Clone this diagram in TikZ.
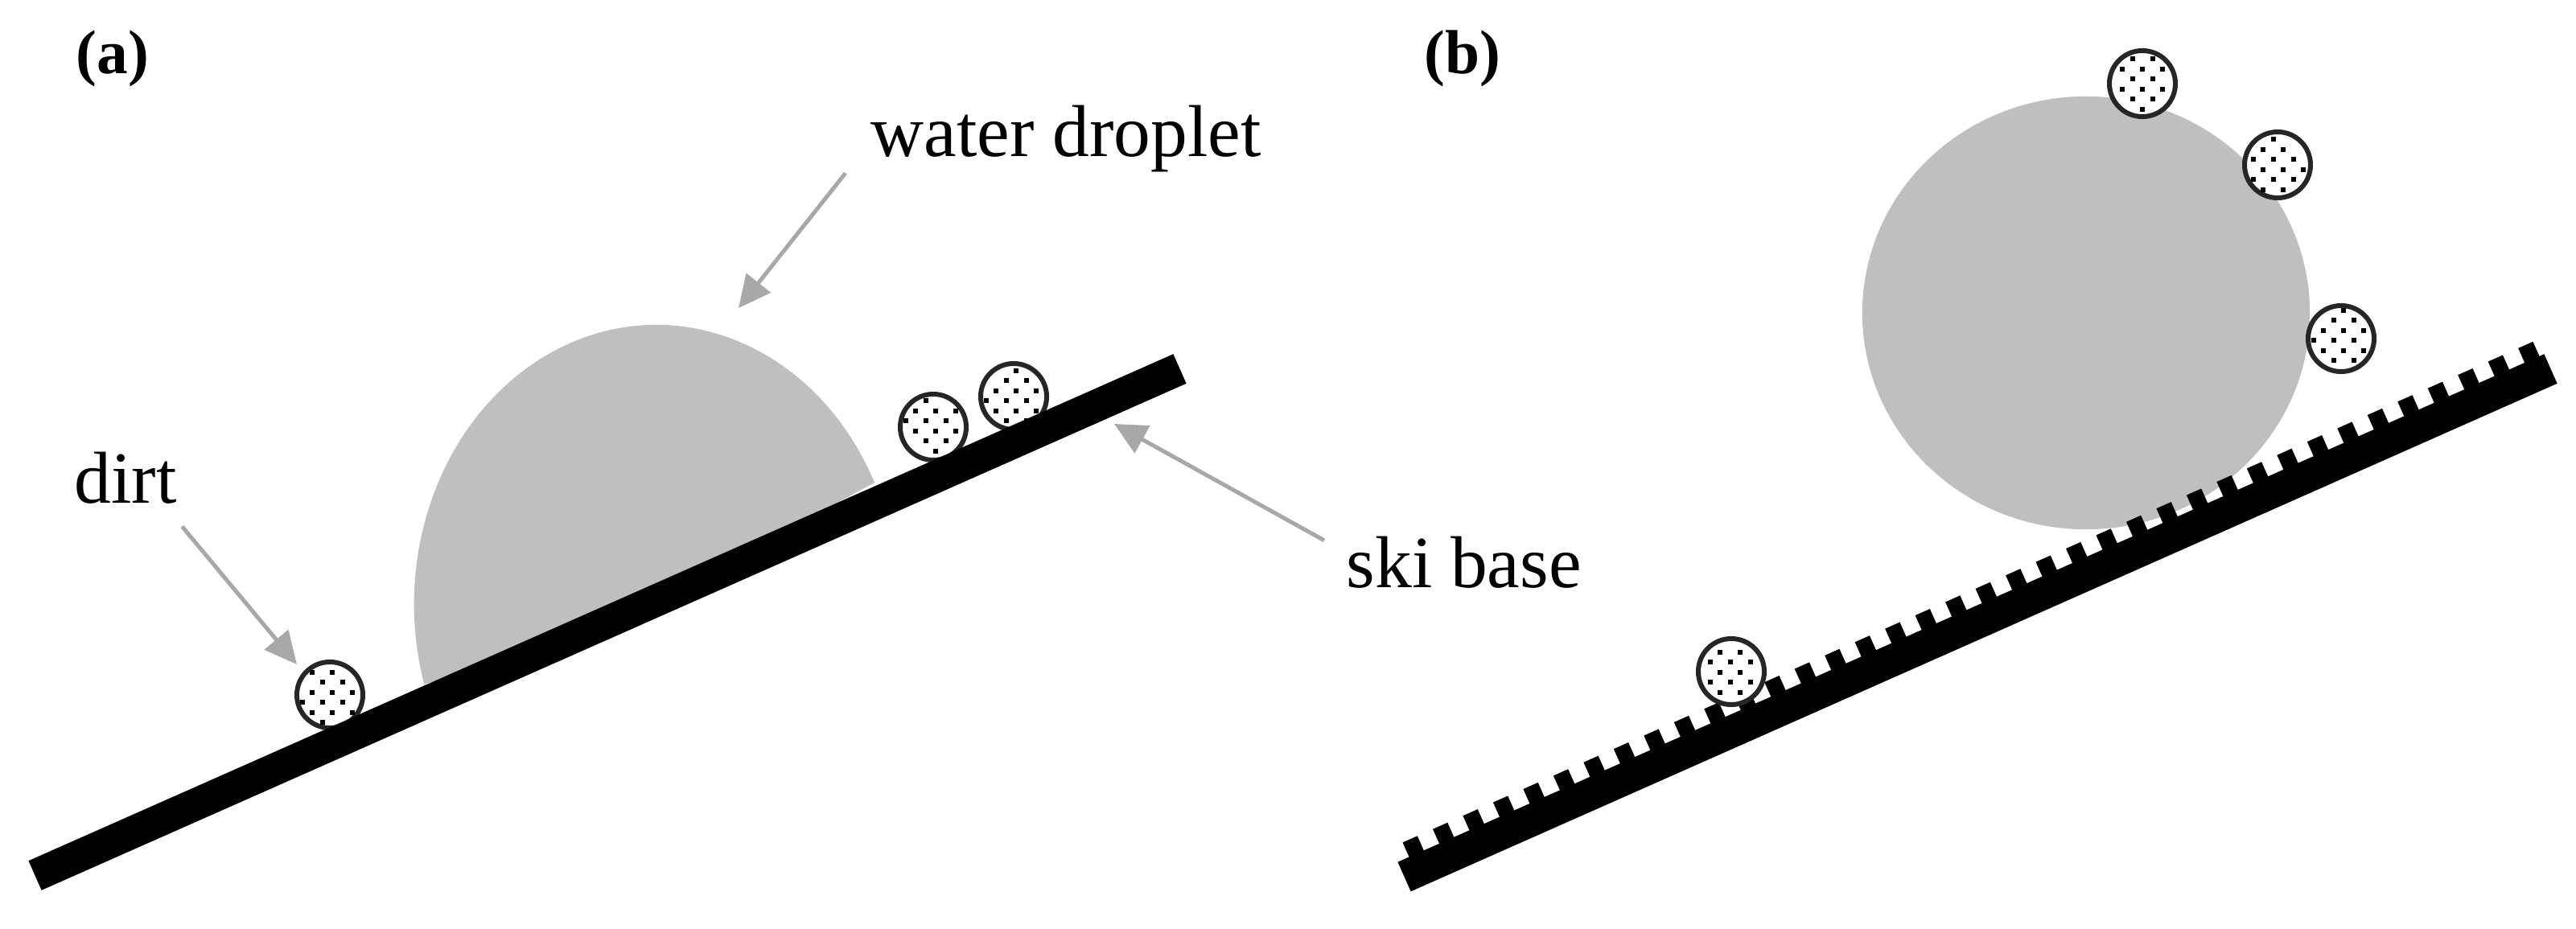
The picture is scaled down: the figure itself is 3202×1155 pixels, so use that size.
\documentclass[tikz,border=0pt]{standalone}
\usepackage{fontspec}
\setmainfont{Liberation Serif}
\usetikzlibrary{arrows.meta,calc}

\definecolor{dropgray}{RGB}{191,191,191}
\definecolor{arrowgray}{RGB}{168,168,168}

\tikzset{
    droplet/.style={fill=dropgray},
    slab/.style={line width=0.4cm},
    tooth/.style={fill=black, inner sep=0pt, minimum width=0.2cm, minimum height=0.39cm, anchor=south, rotate=23.95},
    pointer/.style={arrowgray, line width=0.05cm, -{Triangle[length=0.4cm,width=0.38cm]}},
    dirtball/.style={circle, draw=black!85, fill=white, line width=0.06cm, inner sep=0pt, minimum size=0.82cm},
    caption/.style={inner sep=0pt, anchor=base west, font=\fontsize{26}{30}\selectfont},
    panel/.style={inner sep=0pt, anchor=base west, font=\fontsize{22}{26}\selectfont\bfseries}
}

% dirt particle: the dots of all particles sit on one common grid
\newcommand{\dirtball}[3]{
    \node[dirtball] (#1) at (#2,#3) {};
    \pgfmathtruncatemacro{\rowbase}{round((#3-510.7)/12.5)}
    \foreach \j in {-3,...,3} {
        \pgfmathsetmacro{\rowshift}{(\rowbase+\j)*12.5}
        \pgfmathtruncatemacro{\colbase}{round((#2-1163.3-\rowshift)/25)}
        \foreach \i in {-2,...,2} {
            \pgfmathsetmacro{\dotx}{1163.3+\rowshift+(\colbase+\i)*25}
            \pgfmathsetmacro{\doty}{510.7+\rowshift}
            \pgfmathtruncatemacro{\inside}{veclen(\dotx-#2,\doty-#3)<36 ? 1 : 0}
            \ifnum\inside=1
                \fill (\dotx-3,\doty-3) rectangle ++(6,6);
            \fi
        }
    }
}

\begin{document}
\begin{tikzpicture}[x=0.01cm,y=-0.01cm]
    \useasboundingbox (0,0) rectangle (3202,1155);

    % Panel (a)
    \node[panel] (labelA) at (94,92) {(a)};
    \fill[droplet] (1087,600) arc[start angle=25.8, end angle=196.75, x radius=3.01cm, y radius=3.47cm] -- (820,745) -- cycle;
    \dirtball{dirtA}{410}{864}
    \dirtball{dirtB}{1160}{531}
    \dirtball{dirtC}{1260}{493}
    \coordinate (baseAstart) at (43.5,1088.5);
    \coordinate (baseAend) at (1466.5,458.5);
    \draw[slab] (baseAstart) -- (baseAend);

    % Labels and arrows
    \node[caption] (water) at (1082,195) {water droplet};
    \node[caption] (dirt) at (92,626) {dirt};
    \node[caption] (ski) at (1673,731) {ski base};
    \coordinate (waterTip) at (918,383);
    \coordinate (dirtTip) at (369,826);
    \coordinate (skiTip) at (1385,527);
    \draw[pointer] ($(water.south west)+(-31,0)$) -- (waterTip);
    \draw[pointer] ($(dirt.south east)+(6,27)$) -- (dirtTip);
    \draw[pointer] ($(ski.north west)+(-27,5)$) -- (skiTip);

    % Panel (b)
    \node[panel] (labelB) at (1770,92) {(b)};
    \fill[droplet] (2593,389) ellipse [x radius=2.78cm, y radius=2.69cm];
    \coordinate (baseBstart) at (1745.5,1090);
    \coordinate (baseBend) at (3170.5,458.5);
    \draw[slab] (baseBstart) -- (baseBend);
    \foreach \n in {0,...,37}
        \node[tooth] (tooth\n) at ($(baseBstart)!{(25.5+\n*41)/1559}!(baseBend)$) {};
    \dirtball{dirtD}{2152}{835}
    \dirtball{dirtE}{2663}{104}
    \dirtball{dirtF}{2831}{205}
    \dirtball{dirtG}{2910}{421}
\end{tikzpicture}
\end{document}
